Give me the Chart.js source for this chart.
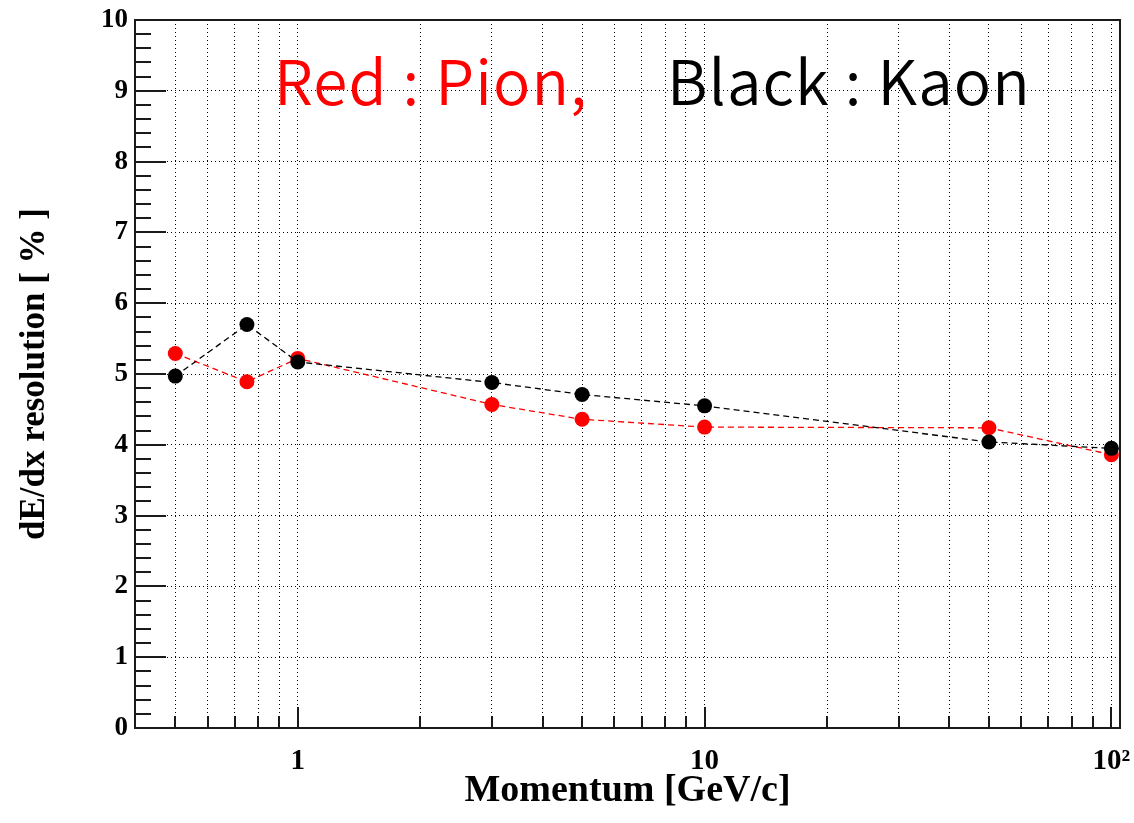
<!DOCTYPE html>
<html>
<head>
<meta charset="utf-8">
<script src="https://cdn.jsdelivr.net/npm/chart.js@4/dist/chart.umd.min.js"></script>
<style>
  html, body { margin: 0; padding: 0; background: #fff; }
  #wrap { width: 1134px; height: 823px; }
</style>
</head>
<body>
<div id="wrap"><canvas id="chart" width="1134" height="823"></canvas></div>
<script>
// momentum points [GeV/c] and dE/dx resolution [%]
const momentum = [0.5, 0.75, 1, 3, 5, 10, 50, 100];
const pionRes = [5.29, 4.89, 5.22, 4.57, 4.36, 4.25, 4.24, 3.86];
const kaonRes = [4.97, 5.70, 5.17, 4.88, 4.71, 4.55, 4.04, 3.95];

// axis ticks
const xTicks = [0.5, 0.6, 0.7, 0.8, 0.9, 1, 2, 3, 4, 5, 6, 7, 8, 9,
  10, 20, 30, 40, 50, 60, 70, 80, 90, 100];
const xMajor = [1, 10, 100];
const xMajorLabels = ['1', '10', '10²'];
const yTicks = [0, 1, 2, 3, 4, 5, 6, 7, 8, 9, 10];

const serif = '"Liberation Serif", "DejaVu Serif", serif';

const toPoints = ys => momentum.map((m, i) => ({ x: m, y: ys[i] }));

// ROOT style frame, inward ticks and the text label
const rootFrame = {
  id: 'rootFrame',
  beforeDatasetsDraw(chart) {
    const { ctx, chartArea: a, scales: { x, y } } = chart;
    ctx.save();
    ctx.strokeStyle = '#1a1a1a';
    ctx.lineWidth = 2;
    ctx.beginPath();
    xTicks.forEach(v => {
      const px = Math.round(x.getPixelForValue(v));
      const len = xMajor.includes(v) ? 21 : 12;
      ctx.moveTo(px, a.bottom);
      ctx.lineTo(px, a.bottom - len);
    });
    for (let i = 0; i < yTicks.length - 1; i++) {
      for (let k = 0; k < 5; k++) {
        const py = Math.round(y.getPixelForValue(yTicks[i] + k * 0.2));
        const len = k === 0 ? 31 : 16;
        ctx.moveTo(a.left, py);
        ctx.lineTo(a.left + len, py);
      }
    }
    ctx.stroke();
    ctx.strokeRect(a.left, a.top, a.right - a.left, a.bottom - a.top);
    ctx.restore();
  },
  afterDraw(chart) {
    const ctx = chart.ctx;
    ctx.save();
    ctx.font = '350 62px "Noto Sans CJK JP", "Noto Sans", sans-serif';
    ctx.letterSpacing = '1.1px';
    ctx.textBaseline = 'alphabetic';
    ctx.textAlign = 'left';
    ctx.fillStyle = '#ff0000';
    ctx.fillText('Red : Pion,', 274, 105);
    ctx.fillStyle = '#000';
    ctx.fillText('Black : Kaon', 667, 105);
    ctx.restore();
  }
};

function draw() {
  new Chart(document.getElementById('chart'), {
    type: 'scatter',
    data: {
      datasets: [
        {
          label: 'Kaon',
          data: toPoints(kaonRes),
          showLine: true,
          borderColor: '#000',
          backgroundColor: '#000',
          borderWidth: 1.3,
          borderDash: [6, 4],
          pointRadius: 7.5,
          pointBorderWidth: 0,
          order: 0
        },
        {
          label: 'Pion',
          data: toPoints(pionRes),
          showLine: true,
          borderColor: '#ff0000',
          backgroundColor: '#ff0000',
          borderWidth: 1.3,
          borderDash: [6, 4],
          pointRadius: 7.5,
          pointBorderWidth: 0,
          order: 1
        }
      ]
    },
    options: {
      responsive: false,
      animation: false,
      layout: { padding: { top: 20, right: 14, left: 0, bottom: 0 } },
      plugins: {
        legend: { display: false },
        tooltip: { enabled: false }
      },
      scales: {
        x: {
          type: 'logarithmic',
          min: 0.398,
          max: 105,
          afterBuildTicks(s) {
            s.ticks = xTicks.map(v => ({ value: v, major: xMajor.includes(v) }));
          },
          afterFit(s) {
            s.height = 95;
            s.paddingLeft = 0;
            s.paddingRight = 0;
          },
          grid: { color: '#000', lineWidth: 1, drawTicks: false },
          border: { display: false, dash: [1, 3] },
          ticks: {
            autoSkip: false,
            maxRotation: 0,
            minRotation: 0,
            padding: 16,
            color: '#000',
            font: { family: serif, weight: 'bold', size: 29 },
            callback(v) {
              const i = xMajor.indexOf(v);
              return i >= 0 ? xMajorLabels[i] : '';
            }
          },
          title: {
            display: true,
            text: 'Momentum [GeV/c]',
            color: '#000',
            font: { family: serif, weight: 'bold', size: 38 },
            padding: { top: 0, bottom: 9 }
          }
        },
        y: {
          min: 0,
          max: 10,
          afterFit(s) {
            s.width = 135;
            s.paddingTop = 0;
            s.paddingBottom = 0;
          },
          grid: { color: '#000', lineWidth: 1, drawTicks: false },
          border: { display: false, dash: [1, 3] },
          ticks: {
            stepSize: 1,
            padding: 7,
            color: '#000',
            font: { family: serif, weight: 'bold', size: 27 }
          },
          title: {
            display: true,
            text: 'dE/dx resolution [ % ]',
            color: '#000',
            font: { family: serif, weight: 'bold', size: 35 },
            padding: { top: 14, bottom: 0 }
          }
        }
      }
    },
    plugins: [rootFrame]
  });
}

Promise.all([
  document.fonts.load('bold 28px "Liberation Serif"'),
  document.fonts.load('350 62px "Noto Sans CJK JP"')
]).then(draw, draw);
</script>
</body>
</html>
